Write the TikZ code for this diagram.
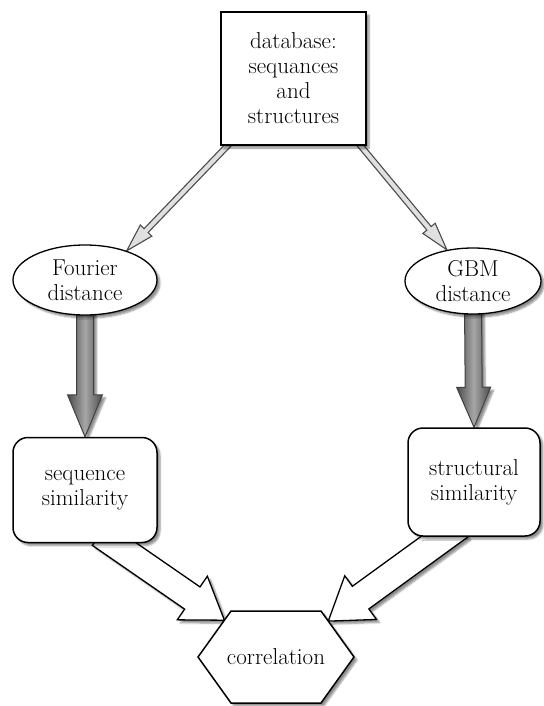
\documentclass[tikz,border=0pt]{standalone}
\usepackage{tikz}
\usetikzlibrary{calc,shapes.geometric,shadows.blur}
\pgfdeclarelayer{bg}
\pgfsetlayers{bg,main}

\begin{document}
\begin{tikzpicture}[x=1pt,y=-1pt,font=\fontsize{23}{25}\selectfont]
  \tikzstyle{shad}=[blur shadow={shadow xshift=3pt,shadow yshift=-3pt,shadow blur steps=6,shadow opacity=45}]
  \tikzstyle{dbnode}=[draw, line width=1.6pt, fill=white, shad, align=center, inner sep=0pt, minimum width=145pt, minimum height=133pt]
  \tikzstyle{distnode}=[ellipse, draw, line width=1.3pt, fill=white, shad, align=center, inner sep=0pt]
  \tikzstyle{simnode}=[draw, line width=1.5pt, rounded corners=15pt, fill=white, shad, align=center, inner sep=0pt]
  \tikzstyle{thinarrow}=[draw=black!70, line width=1.1pt, fill=black!12]
  \tikzstyle{grayarrow}=[draw=black!75, line width=1pt, left color=black!70, right color=black!70, middle color=black!35, shad]
  \tikzstyle{openarrow}=[draw, line width=1.3pt, fill=white, shad]
  \tikzset{fat/.style n args={3}{to path={($(\tikztostart)!#1!90:(\tikztotarget)$)
      -- ($($(\tikztotarget)!#3!(\tikztostart)$)!#1!-90:(\tikztostart)$)
      -- ($($(\tikztotarget)!#3!(\tikztostart)$)!#2!-90:(\tikztostart)$)
      -- (\tikztotarget)
      -- ($($(\tikztotarget)!#3!(\tikztostart)$)!#2!90:(\tikztostart)$)
      -- ($($(\tikztotarget)!#3!(\tikztostart)$)!#1!90:(\tikztostart)$)
      -- ($(\tikztostart)!#1!-90:(\tikztotarget)$) -- cycle}}}
  \useasboundingbox (0,0) rectangle (543,706);

  \node[dbnode] (db) at (293.5,78.5) {database:\\sequances\\and\\structures};
  \node[distnode, minimum width=144pt, minimum height=70pt] (fourier) at (85,280) {Fourier\\distance};
  \node[distnode, minimum width=136pt, minimum height=66pt] (gbm) at (473,281) {GBM\\distance};
  \node[simnode, minimum width=144pt, minimum height=105pt] (seq) at (85,490) {sequence\\similarity};
  \node[simnode, minimum width=132pt, minimum height=108pt] (struc) at (474,482) {structural\\similarity};

  % hexagon around the correlation node
  \coordinate (corrc) at (276,657);
  \coordinate (c1) at ($(corrc)+(-45,-46)$);
  \coordinate (c2) at ($(corrc)+(45,-46)$);
  \coordinate (c3) at ($(corrc)+(78,0)$);
  \coordinate (c4) at ($(corrc)+(45,46)$);
  \coordinate (c5) at ($(corrc)+(-45,46)$);
  \coordinate (c6) at ($(corrc)+(-78,0)$);
  \draw[line width=1.5pt, fill=white, shad, line join=miter] (c1) -- (c2) -- (c3) -- (c4) -- (c5) -- (c6) -- cycle;
  \node (corr) at (corrc) {correlation};
  \coordinate (tipL) at ($(c1)!0.2!(c6)$);
  \coordinate (tipR) at ($(c2)!0.22!(c3)$);

  % arrows go under the nodes
  \begin{pgfonlayer}{bg}
    \path[thinarrow] ($(db.south west)+(14,-7)$) to[fat={2.8pt}{8pt}{28pt}] (fourier.35);
    \path[thinarrow] ($(db.south east)+(-12,-7)$) to[fat={2.8pt}{8pt}{28pt}] (gbm.130);
    \path[grayarrow] ($(fourier.south)+(0,-10)$) to[fat={8.5pt}{17.5pt}{42pt}] (seq.north);
    \path[grayarrow] ($(gbm.south)+(0,-10)$) to[fat={8.5pt}{17pt}{40pt}] (struc.north);
    \path[openarrow] ($(seq.south)+(15,-9)$) to[fat={13.5pt}{26.5pt}{39pt}] (tipL);
    \path[openarrow] ($(struc.south)+(-14.5,-11)$) to[fat={14pt}{27pt}{40pt}] (tipR);
  \end{pgfonlayer}
\end{tikzpicture}
\end{document}
